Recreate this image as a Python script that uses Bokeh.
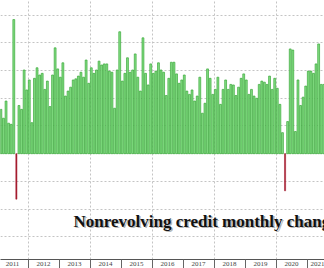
from bokeh.plotting import figure
from bokeh.models import FixedTicker, Range1d, Label
from bokeh.embed import file_html
from bokeh.resources import INLINE

# Year tick labels
years = ["2011", "2012", "2013", "2014", "2015", "2016", "2017", "2018", "2019", "2020", "2021"]

# Monthly change in nonrevolving consumer credit ($bn), Jan 2011 onward
values = [
    8.0, 8.0, 6.4, 9.5, 5.5, 5.3, 24.2, -8.2, 8.7, 8.0, 15.1, 11.5,      # 2011
    13.3, 5.6, 13.6, 15.5, 14.2, 14.5, 11.6, 13.1, 8.5, 14.2, 19.1, 15.3, # 2012
    13.8, 16.4, 10.4, 11.3, 12.0, 13.3, 13.5, 14.0, 14.7, 13.8, 16.9, 12.7, # 2013
    15.5, 14.5, 15.1, 16.7, 16.0, 16.2, 16.2, 14.9, 14.7, 8.2, 15.1, 22.0, # 2014
    13.1, 14.5, 17.3, 14.7, 15.1, 18.0, 13.8, 11.3, 20.9, 14.5, 12.4, 16.2, # 2015
    14.5, 14.9, 16.4, 15.1, 14.7, 10.5, 13.6, 16.5, 16.5, 14.4, 12.7, 13.3, # 2016
    14.2, 11.3, 10.7, 11.5, 9.5, 10.4, 13.8, 7.3, 9.1, 15.3, 13.6, 10.7,  # 2017
    11.6, 13.8, 8.9, 11.6, 13.3, 11.6, 12.5, 12.4, 10.5, 12.0, 13.6, 14.4, # 2018
    13.3, 10.7, 11.6, 10.4, 10.0, 12.5, 13.1, 12.9, 12.5, 14.0, 11.6, 13.6, # 2019
    11.8, 8.9, 3.8, -6.7, 5.8, 18.9, 18.7, 4.0, 13.3, 8.7, 10.2, 12.2,    # 2020
    14.9, 14.9, 14.5, 16.2, 19.8, 12.5, 12.5, 12.0,                       # 2021
]

grid_levels = [-15, -10, -5, 0, 5, 10, 15, 20, 25]
title_text = "Nonrevolving credit monthly change"

month_index = list(range(len(values)))
pos_x = [m for m, v in zip(month_index, values) if v >= 0]
pos_v = [v for v in values if v >= 0]
neg_x = [m for m, v in zip(month_index, values) if v < 0]
neg_v = [v for v in values if v < 0]

p = figure(width=324, height=268, output_backend="svg", toolbar_location=None,
           x_range=Range1d(0.855, 126.27), y_range=Range1d(-19.09, 27.64),
           y_axis_location=None, min_border=0)
p.outline_line_color = None
p.background_fill_color = "white"
p.border_fill_color = "white"

# grids
p.ygrid.ticker = FixedTicker(ticks=grid_levels)
p.ygrid.grid_line_color = "#c4c4c4"
p.ygrid.grid_line_dash = "2 2"
p.ygrid.grid_line_width = 1

boundaries = [12 * k - 0.5 for k in range(len(years) + 1)]
centers = [12 * k + 5.5 for k in range(len(years))]
p.xgrid.ticker = FixedTicker(ticks=[b for i, b in enumerate(boundaries) if i % 2 == 1])
p.xgrid.grid_line_color = "#c4c4c4"
p.xgrid.grid_line_dash = "2 2"
p.xgrid.grid_line_width = 1

# bars
p.vbar(x=pos_x, top=pos_v, bottom=0, width=0.72,
       fill_color="#84de84", line_color="#3aa83a", line_width=0.7)
p.vbar(x=neg_x, top=0, bottom=neg_v, width=0.45,
       fill_color="#a3172a", line_color="#a3172a", line_width=0.5)

# x axis
ax = p.xaxis[0]
ax.ticker = FixedTicker(ticks=centers, minor_ticks=boundaries)
ax.major_label_overrides = {c: y for c, y in zip(centers, years)}
ax.major_tick_out = 0
ax.major_tick_in = 0
ax.minor_tick_out = 11
ax.minor_tick_in = 0
ax.minor_tick_line_color = "#666666"
ax.axis_line_color = "#555555"
ax.major_label_standoff = -9
ax.major_label_text_font = "Liberation Serif"
ax.major_label_text_font_size = "7px"
ax.major_label_text_color = "#444444"

# title with drop shadow
ty = -12.2
shadow = Label(x=29.1, y=ty, x_offset=1.6, y_offset=-1.6, text=title_text,
               text_font="Liberation Serif", text_font_style="bold",
               text_font_size="17px", text_color="#777777", text_alpha=0.55,
               text_baseline="alphabetic")
title = Label(x=29.1, y=ty, text=title_text,
              text_font="Liberation Serif", text_font_style="bold",
              text_font_size="17px", text_color="#111111",
              text_baseline="alphabetic")
p.add_layout(shadow)
p.add_layout(title)

open("out.html", "w").write(file_html(p, INLINE))
